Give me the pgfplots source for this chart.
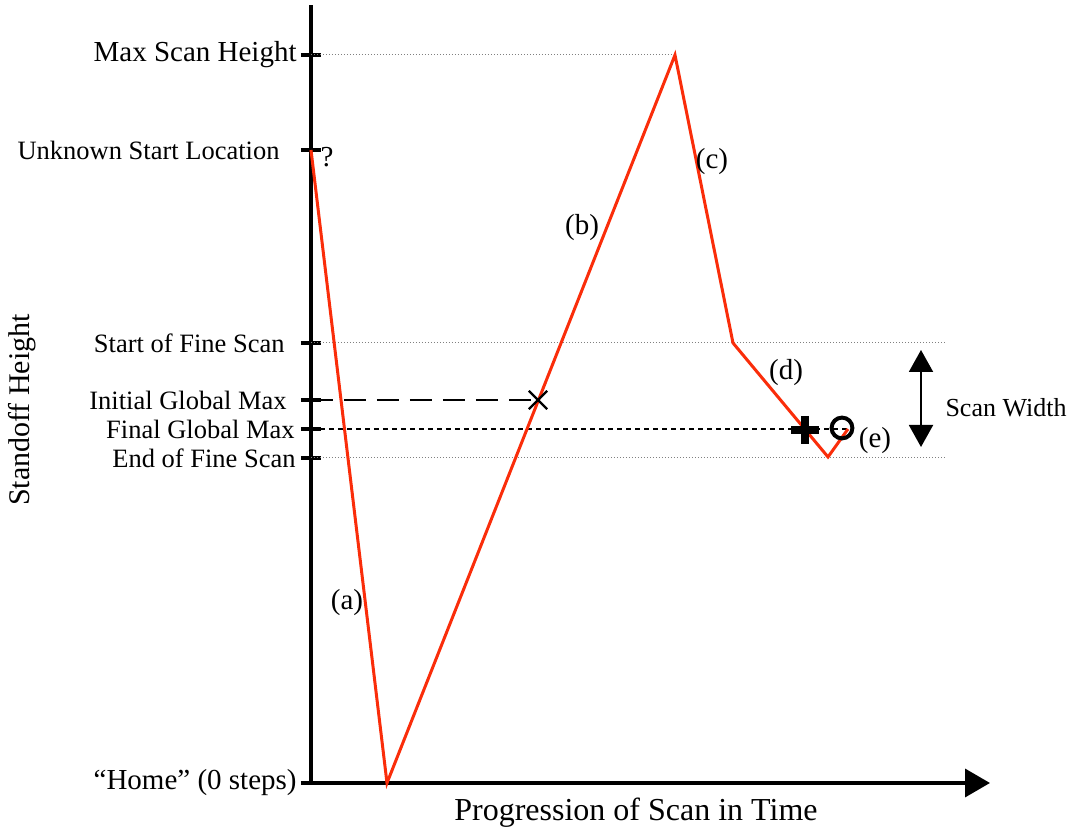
\documentclass[border=0pt]{standalone}
\usepackage{fontspec}
\setmainfont{Liberation Serif}
\usepackage{pgfplots}
\pgfplotsset{compat=1.18}
\usetikzlibrary{arrows.meta}
\definecolor{scanred}{RGB}{250,45,10}

\newcommand{\fsA}{\fontsize{14.5}{16}\selectfont}
\newcommand{\fsB}{\fontsize{13.25}{15}\selectfont}

\begin{document}
\begin{tikzpicture}
\begin{axis}[
  scale only axis, width=339.5pt, height=389pt,
  xmin=0, xmax=679, ymin=0, ymax=778,
  axis x line*=bottom, axis y line*=left,
  axis line style={line width=1.8pt, black},
  x axis line style={-{Triangle[length=12.5pt,width=14pt]}},
  y axis line style={-},
  xtick=\empty,
  ytick={0,325,354,383,440,633,728},
  yticklabels={
    {\fsA ``Home'' (0 steps)},
    {\fsB End of Fine Scan\kern0.5pt},
    {\fsB Final Global Max\kern1pt},
    {\fsB Initial Global Max\kern5pt},
    {\fsB Start of Fine Scan\kern6pt},
    {\fsB Unknown Start Location\kern8.5pt},
    {\fsA Max Scan Height}},
  tick align=center, major tick length=10pt,
  ytick style={line width=1.8pt, black},
  yticklabel style={anchor=east, inner sep=0pt, xshift=-2pt},
  clip=false,
]
% reference levels
\addplot[gray, line width=0.5pt, dash pattern=on 0.6pt off 0.9pt] coordinates {(0,728) (364,728)};
\addplot[gray, line width=0.5pt, dash pattern=on 0.6pt off 0.9pt] coordinates {(0,440) (634,440)};
\addplot[gray, line width=0.5pt, dash pattern=on 0.6pt off 0.9pt] coordinates {(0,325) (634,325)};
% global maxima
\addplot[black, line width=1pt, dash pattern=on 11pt off 5.5pt] coordinates {(0,383) (227,383)};
\addplot[black, line width=0.6pt, dash pattern=on 2.5pt off 2pt] coordinates {(0,354) (537,354)};
% scan path
\addplot[scanred, line width=1.5pt] coordinates {(0,633) (76,0) (364,728) (422,440) (517,326) (537,354)};
% markers
\addplot[black, only marks, mark=x, mark size=6.5pt, line width=1.1pt] coordinates {(227,383)};
\addplot[black, only marks, mark=+, mark size=7pt, line width=4pt] coordinates {(494,353)};
\addplot[black, only marks, mark=o, mark size=5.2pt, line width=2pt] coordinates {(531,355)};

% segment labels
\node[font=\fsA] at (axis cs:36,180) {(a)};
\node[font=\fsA] at (axis cs:271,555) {(b)};
\node[font=\fsA] at (axis cs:401,621) {(c)};
\node[font=\fsA] at (axis cs:475,410) {(d)};
\node[font=\fsA] at (axis cs:564,342) {(e)};
\node[font=\fsA] at (axis cs:16,626) {?};

% scan width
\draw[line width=1pt, {Triangle[length=11pt,width=12pt]}-{Triangle[length=11pt,width=12pt]}]
  (axis cs:610,433) -- (axis cs:610,336);
\node[font=\fontsize{13}{15}\selectfont] at (axis cs:695,375) {Scan Width};

% axis titles
\node[rotate=90, font=\fontsize{15}{17}\selectfont] at (axis cs:-289,373) {Standoff Height};
\node[font=\fontsize{16}{18}\selectfont] at (axis cs:325,-30) {Progression of Scan in Time};

\path (axis cs:-311,-49) rectangle (axis cs:764,783);
\end{axis}
\end{tikzpicture}
\end{document}
